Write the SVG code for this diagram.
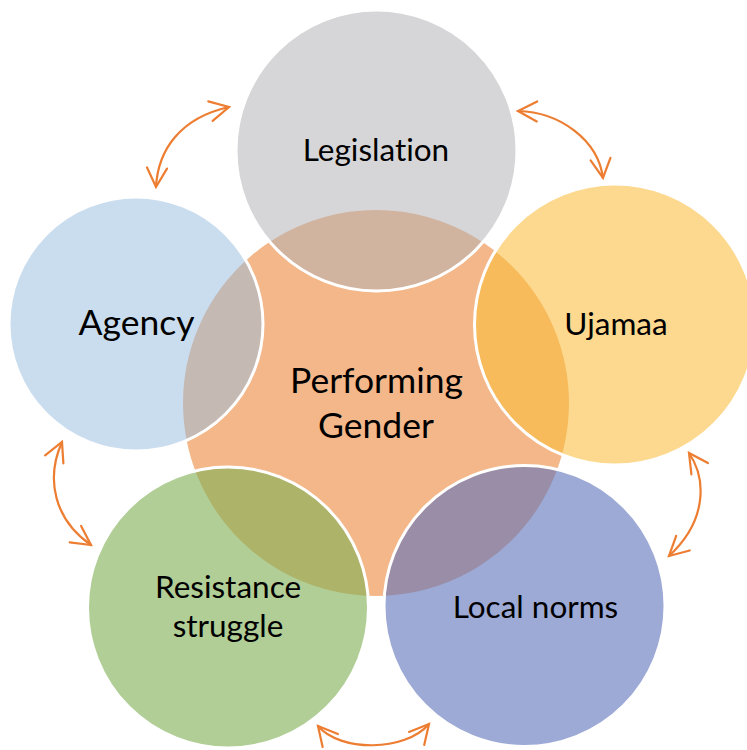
<svg xmlns="http://www.w3.org/2000/svg" width="747" height="750" viewBox="0 0 747 750">
  <style>
    .lbl { font-family: Lato, "Open Sans", "Liberation Sans", sans-serif; fill: #000; text-anchor: middle; font-variant-ligatures: none; }
    .big { font-size: 35.5px; }
    .med { font-size: 31.5px; }
    .outer { stroke: #FFFFFF; stroke-width: 3; }
    .arc { fill: none; stroke: #ED7D31; stroke-width: 2.2; stroke-linecap: round; marker-start: url(#head); marker-end: url(#head); }
  </style>
  <defs>
    <marker id="head" viewBox="-24 -14 28 28" refX="0" refY="0" markerWidth="28" markerHeight="28" markerUnits="userSpaceOnUse" orient="auto-start-reverse">
      <path d="M -19,-10 L 0,0 L -19,10" fill="none" stroke="#ED7D31" stroke-width="2.2" stroke-linecap="round" stroke-linejoin="miter"/>
    </marker>
  </defs>
  <rect width="747" height="750" fill="#FFFFFF"/>

  <g id="performing-gender">
    <circle cx="376" cy="403" r="193" fill="#F4B789"/>
  </g>

  <g id="legislation">
    <circle class="outer" cx="376.5" cy="150.5" r="140.5" fill="#B2B2B6" fill-opacity="0.53"/>
    <text class="lbl med" x="376" y="161">Legislation</text>
  </g>

  <g id="ujamaa">
    <circle class="outer" cx="615" cy="324.5" r="140.5" fill="#FABE3C" fill-opacity="0.58"/>
    <text class="lbl med" x="616" y="335">Ujamaa</text>
  </g>

  <g id="local-norms">
    <circle class="outer" cx="524.5" cy="606" r="140.5" fill="#5C71BB" fill-opacity="0.6"/>
    <text class="lbl med" x="535.5" y="618">Local norms</text>
  </g>

  <g id="resistance-struggle">
    <circle class="outer" cx="228" cy="607.5" r="140.5" fill="#81B055" fill-opacity="0.62"/>
    <text class="lbl med" x="228" y="598">Resistance</text>
    <text class="lbl med" x="228" y="637">struggle</text>
  </g>

  <g id="agency">
    <circle class="outer" cx="136" cy="324" r="127" fill="#95BBDF" fill-opacity="0.5"/>
    <text class="lbl big" x="136.5" y="335">Agency</text>
  </g>

  <g id="center-label">
    <text class="lbl big" x="376.5" y="393">Performing</text>
    <text class="lbl big" x="376" y="438">Gender</text>
  </g>

  <g id="connectors">
    <path class="arc" d="M156,187 C158,150 180,118 229,107"/>
    <path class="arc" d="M518,111 C560,112 598,140 603,178"/>
    <path class="arc" d="M689,453 C706,478 708,520 669,556"/>
    <path class="arc" d="M318,726 C340,752 405,752 429,724"/>
    <path class="arc" d="M62,442 C45,480 55,520 91,545"/>
  </g>
</svg>
